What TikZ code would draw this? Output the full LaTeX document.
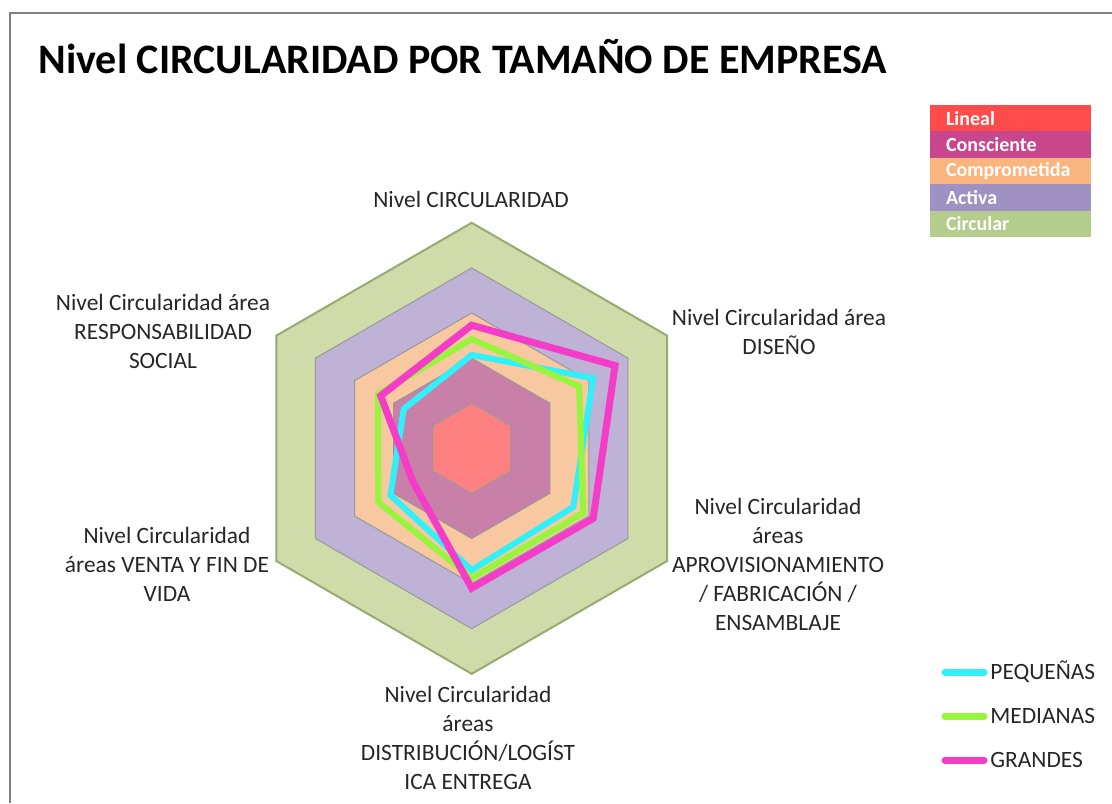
\documentclass[tikz,border=0pt]{standalone}
\usepackage{fontspec}
\setmainfont{Carlito}
\usetikzlibrary{positioning}

\definecolor{lineal}{RGB}{255,75,75}
\definecolor{consciente}{RGB}{200,70,140}
\definecolor{comprometida}{RGB}{250,180,125}
\definecolor{activa}{RGB}{160,145,195}
\definecolor{circular}{RGB}{180,205,140}
\definecolor{ring1}{RGB}{255,128,128}
\definecolor{ring2}{RGB}{200,128,168}
\definecolor{ring3}{RGB}{248,200,160}
\definecolor{ring4}{RGB}{190,178,214}
\definecolor{ring5}{RGB}{207,220,170}
\definecolor{ringborde}{RGB}{150,172,112}
\definecolor{pequenas}{RGB}{50,240,250}
\definecolor{medianas}{RGB}{150,245,60}
\definecolor{grandes}{RGB}{245,60,200}

\begin{document}
\begin{tikzpicture}
	[x=0.5pt, y=-0.5pt,
	 ring/.style={draw=black!40, line width=0.5pt},
	 serie/.style={line width=3pt, line join=miter},
	 eje/.style={align=center, text=black!85, font=\fontsize{11.7}{14.5}\selectfont},
	 nivel/.style={fill=#1, text=white, font=\fontsize{10}{12}\selectfont\bfseries,
	   minimum height=13.2pt, inner xsep=8pt, inner ysep=0pt, outer sep=0pt,
	   text width=64.5pt, align=left},
	 muestra/.style={line width=3.5pt, line cap=round}]
   \useasboundingbox (0,0) rectangle (1112,803);
   \draw[black!50, line width=0.75pt] (1112,13) -- (10,13) -- (10,803);
   \node[anchor=base west, inner sep=0pt, font=\fontsize{21}{25}\selectfont\bfseries] (titulo) at (38,73)
   	{Nivel CIRCULARIDAD POR TAMAÑO DE EMPRESA};

   % hexagonos de nivel y series
   \begin{scope}[shift={(471.7,448.3)}, x=22.55pt, y=22.55pt]
   	\foreach \lev in {5,4,...,1}
   	  \draw[ring, fill=ring\lev] (90:\lev) -- (30:\lev) -- (-30:\lev) -- (-90:\lev) -- (-150:\lev) -- (150:\lev) -- cycle;
   	\draw[draw=ringborde, line width=1pt] (90:5) -- (30:5) -- (-30:5) -- (-90:5) -- (-150:5) -- (150:5) -- cycle;
   	\draw[serie, pequenas] (90:2.07) -- (30:3.11) -- (-30:2.6) -- (-90:2.7) -- (-150:2.08) -- (150:1.74) -- cycle;
   	\draw[serie, medianas] (90:2.42) -- (30:2.75) -- (-30:2.86) -- (-90:2.88) -- (-150:2.39) -- (150:2.4) -- cycle;
   	\draw[serie, grandes, line width=3.5pt] (90:2.73) -- (30:3.67) -- (-30:3.11) -- (-90:3.1) -- (-150:1.5) -- (150:2.33) -- cycle;
   \end{scope}

   \node[eje] (ejeCirc) at (471,199) {Nivel CIRCULARIDAD};
   \node[eje] (ejeDis) at (779,332) {Nivel Circularidad área\\DISEÑO};
   \node[eje] (ejeApr) at (778,564) {Nivel Circularidad\\áreas\\APROVISIONAMIENTO\\/ FABRICACIÓN /\\ENSAMBLAJE};
   \node[eje] (ejeDist) at (468,738) {Nivel Circularidad\\áreas\\DISTRIBUCIÓN/LOGÍST\\ICA ENTREGA};
   \node[eje] (ejeVen) at (167,564) {Nivel Circularidad\\áreas VENTA Y FIN DE\\VIDA};
   \node[eje] (ejeSoc) at (163,331) {Nivel Circularidad área\\RESPONSABILIDAD\\SOCIAL};

   % leyenda de niveles
   \node[nivel=lineal, anchor=north west] (niv1) at (930,105) {Lineal};
   \node[nivel=consciente, below=0pt of niv1] (niv2) {Consciente};
   \node[nivel=comprometida, below=0pt of niv2] (niv3) {Comprometida};
   \node[nivel=activa, below=0pt of niv3] (niv4) {Activa};
   \node[nivel=circular, below=0pt of niv4] (niv5) {Circular};

   % leyenda de series
   \node[eje, anchor=west, inner sep=0pt] (leyP) at (990,672) {PEQUEÑAS};
   \node[eje, anchor=west, inner sep=0pt] (leyM) at (990,716) {MEDIANAS};
   \node[eje, anchor=west, inner sep=0pt] (leyG) at (990,760) {GRANDES};
   \draw[muestra, pequenas] ([xshift=-3pt]leyP.west) -- ++(-39,0);
   \draw[muestra, medianas] ([xshift=-3pt]leyM.west) -- ++(-39,0);
   \draw[muestra, grandes] ([xshift=-3pt]leyG.west) -- ++(-39,0);
\end{tikzpicture}
\end{document}
